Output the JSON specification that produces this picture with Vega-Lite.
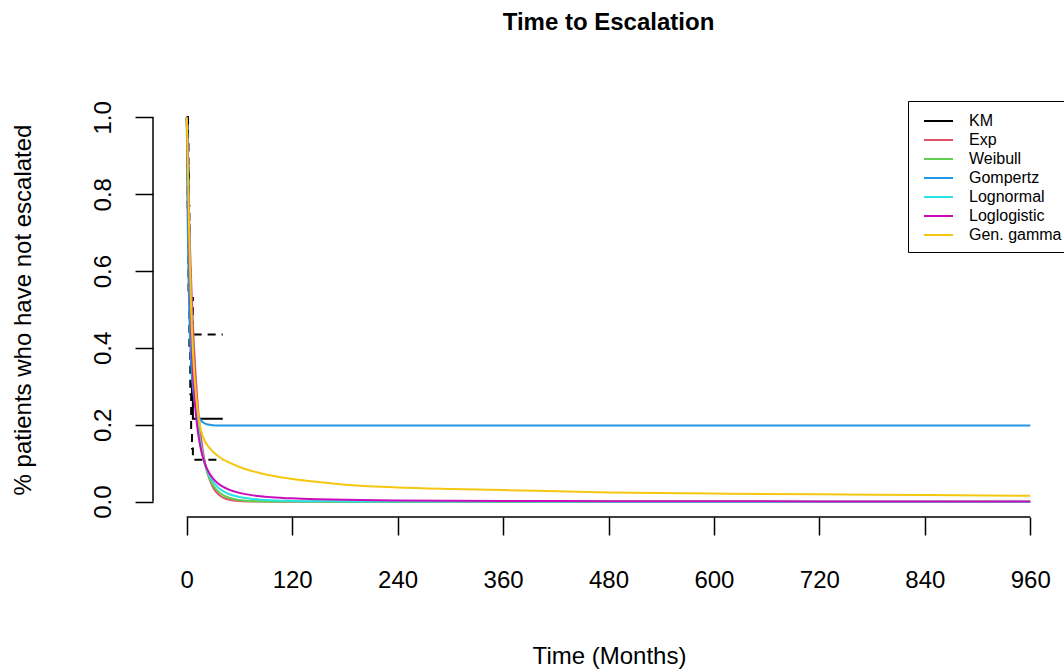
{
  "$schema": "https://vega.github.io/schema/vega-lite/v6.json",
  "width": 911,
  "height": 415,
  "autosize": {"type": "none"},
  "padding": {"left": 153, "top": 102, "right": 0, "bottom": 152},
  "background": "white",
  "title": {"text": "Time to Escalation", "font": "Liberation Sans", "fontSize": 24, "fontWeight": "bold", "color": "black", "anchor": "middle", "frame": "group", "baseline": "alphabetic", "offset": 47},
  "config": {"view": {"stroke": null}},
  "datasets": {
    "ci": [
      {"bound": "upper", "t": 0, "s": 1.0}, {"bound": "upper", "t": 1, "s": 0.99}, {"bound": "upper", "t": 1.5, "s": 0.93}, {"bound": "upper", "t": 2, "s": 0.85}, {"bound": "upper", "t": 2.5, "s": 0.77}, {"bound": "upper", "t": 3, "s": 0.69}, {"bound": "upper", "t": 3.5, "s": 0.61}, {"bound": "upper", "t": 4, "s": 0.53}, {"bound": "upper", "t": 7, "s": 0.435}, {"bound": "upper", "t": 41, "s": 0.435},
      {"bound": "lower", "t": 0, "s": 1.0}, {"bound": "lower", "t": 1, "s": 0.75}, {"bound": "lower", "t": 2, "s": 0.55}, {"bound": "lower", "t": 3, "s": 0.40}, {"bound": "lower", "t": 4, "s": 0.28}, {"bound": "lower", "t": 5, "s": 0.18}, {"bound": "lower", "t": 6, "s": 0.138}, {"bound": "lower", "t": 7, "s": 0.109}, {"bound": "lower", "t": 41, "s": 0.109}
    ],
    "km": [
      {"model": "KM", "t": 0, "s": 1.0}, {"model": "KM", "t": 1, "s": 0.87}, {"model": "KM", "t": 2, "s": 0.72}, {"model": "KM", "t": 3, "s": 0.57}, {"model": "KM", "t": 4, "s": 0.44}, {"model": "KM", "t": 5, "s": 0.34}, {"model": "KM", "t": 6, "s": 0.27}, {"model": "KM", "t": 7, "s": 0.216}, {"model": "KM", "t": 41, "s": 0.216}
    ],
    "axes": [
      {"axis": "x", "from": 0, "to": 960, "at": -0.04},
      {"axis": "y", "from": 0, "to": 1, "at": -38.4}
    ],
    "curves": [
      {"model": "Exp", "t": 0, "s": 1}, {"model": "Exp", "t": 1, "s": 0.896}, {"model": "Exp", "t": 2, "s": 0.803}, {"model": "Exp", "t": 3, "s": 0.719}, {"model": "Exp", "t": 4, "s": 0.644}, {"model": "Exp", "t": 5, "s": 0.577}, {"model": "Exp", "t": 6, "s": 0.517}, {"model": "Exp", "t": 8, "s": 0.415}, {"model": "Exp", "t": 10, "s": 0.333}, {"model": "Exp", "t": 12, "s": 0.267}, {"model": "Exp", "t": 15, "s": 0.192}, {"model": "Exp", "t": 18, "s": 0.138}, {"model": "Exp", "t": 21, "s": 0.099}, {"model": "Exp", "t": 24, "s": 0.071}, {"model": "Exp", "t": 30, "s": 0.037}, {"model": "Exp", "t": 36, "s": 0.019}, {"model": "Exp", "t": 42, "s": 0.0098}, {"model": "Exp", "t": 48, "s": 0.0051}, {"model": "Exp", "t": 60, "s": 0.0014}, {"model": "Exp", "t": 72, "s": 0.0004}, {"model": "Exp", "t": 84, "s": 0.0001}, {"model": "Exp", "t": 96, "s": 0}, {"model": "Exp", "t": 960, "s": 0},
      {"model": "Weibull", "t": 0, "s": 1}, {"model": "Weibull", "t": 1, "s": 0.813}, {"model": "Weibull", "t": 2, "s": 0.697}, {"model": "Weibull", "t": 3, "s": 0.607}, {"model": "Weibull", "t": 4, "s": 0.533}, {"model": "Weibull", "t": 5, "s": 0.471}, {"model": "Weibull", "t": 6, "s": 0.419}, {"model": "Weibull", "t": 8, "s": 0.334}, {"model": "Weibull", "t": 10, "s": 0.270}, {"model": "Weibull", "t": 12, "s": 0.220}, {"model": "Weibull", "t": 15, "s": 0.164}, {"model": "Weibull", "t": 18, "s": 0.123}, {"model": "Weibull", "t": 21, "s": 0.0935}, {"model": "Weibull", "t": 24, "s": 0.0716}, {"model": "Weibull", "t": 30, "s": 0.0428}, {"model": "Weibull", "t": 36, "s": 0.0261}, {"model": "Weibull", "t": 42, "s": 0.0161}, {"model": "Weibull", "t": 48, "s": 0.0101}, {"model": "Weibull", "t": 60, "s": 0.0041}, {"model": "Weibull", "t": 72, "s": 0.0017}, {"model": "Weibull", "t": 84, "s": 0.0008}, {"model": "Weibull", "t": 96, "s": 0.0003}, {"model": "Weibull", "t": 120, "s": 0.0001}, {"model": "Weibull", "t": 150, "s": 0}, {"model": "Weibull", "t": 960, "s": 0},
      {"model": "Gompertz", "t": 0, "s": 1}, {"model": "Gompertz", "t": 1, "s": 0.746}, {"model": "Gompertz", "t": 2, "s": 0.586}, {"model": "Gompertz", "t": 3, "s": 0.482}, {"model": "Gompertz", "t": 4, "s": 0.410}, {"model": "Gompertz", "t": 5, "s": 0.359}, {"model": "Gompertz", "t": 6, "s": 0.322}, {"model": "Gompertz", "t": 8, "s": 0.275}, {"model": "Gompertz", "t": 10, "s": 0.246}, {"model": "Gompertz", "t": 12, "s": 0.229}, {"model": "Gompertz", "t": 15, "s": 0.215}, {"model": "Gompertz", "t": 18, "s": 0.207}, {"model": "Gompertz", "t": 21, "s": 0.203}, {"model": "Gompertz", "t": 24, "s": 0.2007}, {"model": "Gompertz", "t": 30, "s": 0.1989}, {"model": "Gompertz", "t": 36, "s": 0.1983}, {"model": "Gompertz", "t": 48, "s": 0.198}, {"model": "Gompertz", "t": 960, "s": 0.198},
      {"model": "Lognormal", "t": 0, "s": 1}, {"model": "Lognormal", "t": 1, "s": 0.928}, {"model": "Lognormal", "t": 2, "s": 0.797}, {"model": "Lognormal", "t": 3, "s": 0.679}, {"model": "Lognormal", "t": 4, "s": 0.580}, {"model": "Lognormal", "t": 5, "s": 0.5}, {"model": "Lognormal", "t": 6, "s": 0.434}, {"model": "Lognormal", "t": 8, "s": 0.335}, {"model": "Lognormal", "t": 10, "s": 0.264}, {"model": "Lognormal", "t": 12, "s": 0.213}, {"model": "Lognormal", "t": 15, "s": 0.159}, {"model": "Lognormal", "t": 18, "s": 0.122}, {"model": "Lognormal", "t": 21, "s": 0.096}, {"model": "Lognormal", "t": 24, "s": 0.077}, {"model": "Lognormal", "t": 30, "s": 0.0517}, {"model": "Lognormal", "t": 36, "s": 0.0363}, {"model": "Lognormal", "t": 42, "s": 0.0265}, {"model": "Lognormal", "t": 48, "s": 0.0199}, {"model": "Lognormal", "t": 60, "s": 0.0119}, {"model": "Lognormal", "t": 72, "s": 0.0077}, {"model": "Lognormal", "t": 84, "s": 0.0052}, {"model": "Lognormal", "t": 96, "s": 0.0036}, {"model": "Lognormal", "t": 120, "s": 0.0019}, {"model": "Lognormal", "t": 150, "s": 0.001}, {"model": "Lognormal", "t": 180, "s": 0.0006}, {"model": "Lognormal", "t": 240, "s": 0.0002}, {"model": "Lognormal", "t": 300, "s": 0.0001}, {"model": "Lognormal", "t": 480, "s": 0}, {"model": "Lognormal", "t": 960, "s": 0},
      {"model": "Loglogistic", "t": 0, "s": 1}, {"model": "Loglogistic", "t": 1, "s": 0.898}, {"model": "Loglogistic", "t": 2, "s": 0.764}, {"model": "Loglogistic", "t": 3, "s": 0.643}, {"model": "Loglogistic", "t": 4, "s": 0.543}, {"model": "Loglogistic", "t": 5, "s": 0.462}, {"model": "Loglogistic", "t": 6, "s": 0.397}, {"model": "Loglogistic", "t": 8, "s": 0.303}, {"model": "Loglogistic", "t": 10, "s": 0.239}, {"model": "Loglogistic", "t": 12, "s": 0.194}, {"model": "Loglogistic", "t": 15, "s": 0.149}, {"model": "Loglogistic", "t": 18, "s": 0.118}, {"model": "Loglogistic", "t": 21, "s": 0.097}, {"model": "Loglogistic", "t": 24, "s": 0.081}, {"model": "Loglogistic", "t": 30, "s": 0.060}, {"model": "Loglogistic", "t": 36, "s": 0.0467}, {"model": "Loglogistic", "t": 42, "s": 0.0377}, {"model": "Loglogistic", "t": 48, "s": 0.0313}, {"model": "Loglogistic", "t": 60, "s": 0.0228}, {"model": "Loglogistic", "t": 72, "s": 0.0176}, {"model": "Loglogistic", "t": 84, "s": 0.0141}, {"model": "Loglogistic", "t": 96, "s": 0.0117}, {"model": "Loglogistic", "t": 120, "s": 0.0085}, {"model": "Loglogistic", "t": 150, "s": 0.0062}, {"model": "Loglogistic", "t": 180, "s": 0.0047}, {"model": "Loglogistic", "t": 240, "s": 0.0031}, {"model": "Loglogistic", "t": 300, "s": 0.0023}, {"model": "Loglogistic", "t": 360, "s": 0.0017}, {"model": "Loglogistic", "t": 480, "s": 0.0011}, {"model": "Loglogistic", "t": 600, "s": 0.0008}, {"model": "Loglogistic", "t": 720, "s": 0.0006}, {"model": "Loglogistic", "t": 840, "s": 0.0005}, {"model": "Loglogistic", "t": 960, "s": 0.0004},
      {"model": "Gen. gamma", "t": 0, "s": 1}, {"model": "Gen. gamma", "t": 1, "s": 0.90}, {"model": "Gen. gamma", "t": 2, "s": 0.78}, {"model": "Gen. gamma", "t": 3, "s": 0.67}, {"model": "Gen. gamma", "t": 4, "s": 0.58}, {"model": "Gen. gamma", "t": 5, "s": 0.50}, {"model": "Gen. gamma", "t": 6, "s": 0.44}, {"model": "Gen. gamma", "t": 8, "s": 0.35}, {"model": "Gen. gamma", "t": 10, "s": 0.29}, {"model": "Gen. gamma", "t": 12, "s": 0.245}, {"model": "Gen. gamma", "t": 15, "s": 0.198}, {"model": "Gen. gamma", "t": 18, "s": 0.172}, {"model": "Gen. gamma", "t": 21, "s": 0.156}, {"model": "Gen. gamma", "t": 24, "s": 0.145}, {"model": "Gen. gamma", "t": 30, "s": 0.130}, {"model": "Gen. gamma", "t": 36, "s": 0.118}, {"model": "Gen. gamma", "t": 42, "s": 0.109}, {"model": "Gen. gamma", "t": 48, "s": 0.102}, {"model": "Gen. gamma", "t": 60, "s": 0.090}, {"model": "Gen. gamma", "t": 72, "s": 0.081}, {"model": "Gen. gamma", "t": 84, "s": 0.074}, {"model": "Gen. gamma", "t": 96, "s": 0.068}, {"model": "Gen. gamma", "t": 120, "s": 0.059}, {"model": "Gen. gamma", "t": 150, "s": 0.051}, {"model": "Gen. gamma", "t": 180, "s": 0.044}, {"model": "Gen. gamma", "t": 240, "s": 0.037}, {"model": "Gen. gamma", "t": 300, "s": 0.033}, {"model": "Gen. gamma", "t": 360, "s": 0.030}, {"model": "Gen. gamma", "t": 480, "s": 0.024}, {"model": "Gen. gamma", "t": 600, "s": 0.021}, {"model": "Gen. gamma", "t": 720, "s": 0.019}, {"model": "Gen. gamma", "t": 840, "s": 0.017}, {"model": "Gen. gamma", "t": 960, "s": 0.015}
    ]
  },
  "layer": [
    {
      "data": {"name": "ci"},
      "mark": {"type": "line", "interpolate": "step-after", "color": "black", "strokeWidth": 2, "strokeDash": [8, 6]},
      "encoding": {
        "x": {"field": "t", "type": "quantitative",
          "scale": {"domain": [-38.4, 998.4], "nice": false, "zero": false},
          "axis": {"values": [0, 120, 240, 360, 480, 600, 720, 840, 960], "title": "Time (Months)", "domain": false, "grid": false, "ticks": true, "tickSize": 18, "tickColor": "black", "tickWidth": 1.5, "labels": true, "labelFont": "Liberation Sans", "labelFontSize": 24, "labelColor": "black", "labelPadding": 52, "labelBaseline": "alphabetic", "labelFlush": false, "labelOverlap": false, "titleFont": "Liberation Sans", "titleFontSize": 24, "titleFontWeight": "normal", "titleColor": "black", "titleX": 456, "titleY": 146, "titleBaseline": "alphabetic", "titleAlign": "center"}},
        "y": {"field": "s", "type": "quantitative",
          "scale": {"domain": [-0.04, 1.04], "nice": false, "zero": false},
          "axis": {"values": [0, 0.2, 0.4, 0.6, 0.8, 1.0], "format": ".1f", "title": "% patients who have not escalated", "domain": false, "grid": false, "ticks": true, "tickSize": 18, "tickColor": "black", "tickWidth": 1.5, "labels": true, "labelFont": "Liberation Sans", "labelFontSize": 24, "labelColor": "black", "labelAngle": -90, "labelAlign": "center", "labelBaseline": "alphabetic", "labelPadding": 25, "labelFlush": false, "labelOverlap": false, "titleFont": "Liberation Sans", "titleFontSize": 24, "titleFontWeight": "normal", "titleColor": "black", "titleAngle": -90, "titleX": -123, "titleY": 207.5, "titleAlign": "center", "titleBaseline": "alphabetic"}},
        "detail": {"field": "bound"}
      }
    },
    {
      "data": {"name": "km"},
      "mark": {"type": "line", "interpolate": "step-after", "strokeWidth": 2},
      "encoding": {
        "x": {"field": "t", "type": "quantitative"},
        "y": {"field": "s", "type": "quantitative"},
        "color": {"field": "model", "type": "nominal"}
      }
    },
    {
      "data": {"name": "curves"},
      "mark": {"type": "line", "interpolate": "monotone", "strokeWidth": 2},
      "encoding": {
        "x": {"field": "t", "type": "quantitative"},
        "y": {"field": "s", "type": "quantitative"},
        "color": {"field": "model", "type": "nominal",
          "scale": {"domain": ["KM", "Exp", "Weibull", "Gompertz", "Lognormal", "Loglogistic", "Gen. gamma"], "range": ["#000000", "#DF536B", "#61D04F", "#2297E6", "#28E2E5", "#CD0BBC", "#F5C710"]},
          "legend": {"orient": "none", "legendX": 755, "legendY": -1, "title": null, "symbolType": "M-0.4,0H2.5", "symbolSize": 400, "symbolStrokeWidth": 2, "labelFont": "Liberation Sans", "labelFontSize": 16, "labelColor": "black", "labelOffset": 30, "strokeColor": "black", "fillColor": "white", "padding": 9, "rowPadding": 0}}
      }
    },
    {
      "data": {"name": "axes"},
      "transform": [{"filter": "datum.axis === 'x'"}],
      "mark": {"type": "rule", "color": "black", "strokeWidth": 1.5},
      "encoding": {
        "x": {"field": "from", "type": "quantitative"},
        "x2": {"field": "to"},
        "y": {"field": "at", "type": "quantitative"}
      }
    },
    {
      "data": {"name": "axes"},
      "transform": [{"filter": "datum.axis === 'y'"}],
      "mark": {"type": "rule", "color": "black", "strokeWidth": 1.5},
      "encoding": {
        "x": {"field": "at", "type": "quantitative"},
        "y": {"field": "from", "type": "quantitative"},
        "y2": {"field": "to"}
      }
    }
  ]
}
